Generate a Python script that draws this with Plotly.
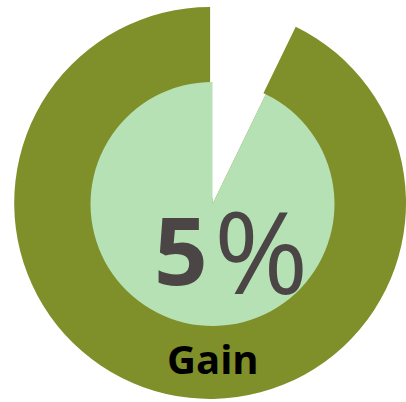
import plotly.graph_objects as go

# Data
labels = ["Gap", "Gain"]
outer_values = [7.2, 92.8]
inner_values = [7.2, 92.8]
value_text = "5"
pct_text = "%"
caption = "Gain"

W, H = 406, 402
olive = "#7F8F29"
light = "#B5E1B5"

fig = go.Figure()
fig.add_trace(go.Pie(
    labels=labels, values=outer_values, sort=False, direction="clockwise", rotation=0,
    marker=dict(colors=["white", olive], line=dict(width=0)),
    textinfo="none", hoverinfo="none", showlegend=False,
    domain=dict(x=[0.035, 1.0], y=[0.0, 0.99]),
))
cx, cy, r = 212.5, 204, 122
fig.add_trace(go.Pie(
    labels=labels, values=inner_values, sort=False, direction="clockwise", rotation=0,
    marker=dict(colors=["white", light], line=dict(width=0)),
    textinfo="none", hoverinfo="none", showlegend=False,
    domain=dict(x=[(cx - r) / W, (cx + r) / W], y=[(H - cy - r) / H, (H - cy + r) / H]),
))

fig.add_annotation(text="<b>" + value_text + "</b>", x=210 / W, y=1 - 249 / H, xref="paper", yref="paper",
                   xanchor="right", yanchor="middle", showarrow=False,
                   font=dict(family="Open Sans", size=94, color="#4B4546"))
fig.add_annotation(text=pct_text, x=212 / W, y=1 - 249 / H, xref="paper", yref="paper",
                   xanchor="left", yanchor="middle", showarrow=False,
                   font=dict(family="Open Sans", size=114, color="#4B4546"))
fig.add_annotation(text="<b>" + caption + "</b>", x=213 / W, y=1 - 358 / H, xref="paper", yref="paper",
                   xanchor="center", yanchor="middle", showarrow=False,
                   font=dict(family="Open Sans", size=40, color="black"))

fig.update_layout(width=W, height=H, margin=dict(l=0, r=0, t=0, b=0),
                  paper_bgcolor="white", plot_bgcolor="white")
fig.write_html("out.html")
